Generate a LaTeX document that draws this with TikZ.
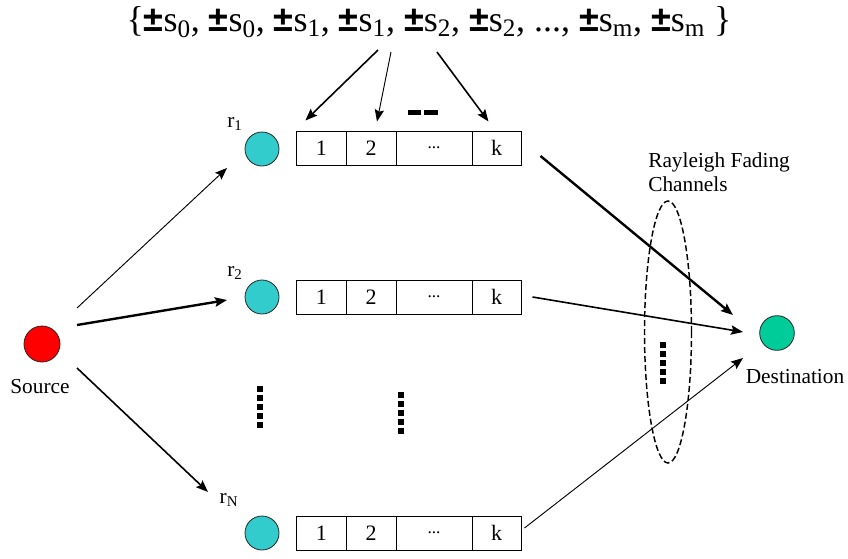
\documentclass[tikz,border=0pt]{standalone}
\usepackage{fontspec}
\setmainfont{Liberation Serif}
\setsansfont{Liberation Sans}
\usetikzlibrary{arrows.meta}
\definecolor{srcred}{RGB}{255,0,0}
\definecolor{relaycyan}{RGB}{51,204,204}
\definecolor{dstgreen}{RGB}{0,204,153}
\newcommand\pmsym{{\sffamily\bfseries ±}}
\newcommand\symb[1]{\pmsym s\textsubscript{#1}}

\begin{document}
\begin{tikzpicture}[x=0.75pt,y=-0.75pt,
  station/.style={circle,draw=black!85,line width=0.6pt,inner sep=0pt,minimum size=25.5pt},
  cell/.style={draw,line width=0.75pt,inner sep=0pt,minimum height=25.5pt,font=\fontsize{16.5}{16.5}\selectfont},
  lbl/.style={inner sep=0pt,font=\fontsize{16}{18}\selectfont},
  tip/.style={-{Stealth[length=9pt,width=7pt,inset=1.5pt]}},
  thinarrow/.style={tip,line width=0.7pt},
  midarrow/.style={tip,line width=1.2pt},
  thickarrow/.style={tip,line width=1.8pt},
]
\useasboundingbox (0,0) rectangle (848,558);

% symbol set at the top
\node[inner sep=0pt,font=\fontsize{27}{30}\selectfont] (set) at (429,22)
  {\{\symb{0}, \symb{0}, \symb{1}, \symb{1}, \symb{2}, \symb{2}, ..., \symb{m}, \symb{m} \}};

% source, relays and destination
\node[station,fill=srcred,minimum size=27pt] (src) at (42,344) {};
\node[lbl] (srclbl) at (40,387) {Source};
\node[station,fill=relaycyan] (r1) at (262,149) {};
\node[station,fill=relaycyan] (r2) at (262,297) {};
\node[station,fill=relaycyan] (rN) at (262,533) {};
\node[lbl] (r1lbl) at (235,124) {r\textsubscript{1}};
\node[lbl] (r2lbl) at (235,273) {r\textsubscript{2}};
\node[lbl] (rNlbl) at (229,500) {r\textsubscript{N}};
\node[station,fill=dstgreen,minimum size=26pt] (dst) at (777,333) {};
\node[lbl] (dstlbl) at (795,377) {Destination};

% relay buffers
\foreach \row/\y in {1/148,2/297,N/533} {
  \node[cell,minimum width=37pt]    (c\row a) at (321.4,\y) {1};
  \node[cell,minimum width=37.5pt]  (c\row b) at (371,\y) {2};
  \node[cell,minimum width=57pt]    (c\row c) at (434,\y) {\fontsize{13}{13}\selectfont ...};
  \node[cell,minimum width=36.75pt] (c\row d) at (496.5,\y) {k};
}

% dash mark above the first buffer
\fill (408,110) rectangle (421,115);
\fill (424,110) rectangle (438,115);

% vertical dot columns
\foreach \i in {0,...,4} {
  \fill (257,386+9*\i) rectangle +(6,6);
  \fill (398,392+9*\i) rectangle +(6,6);
  \fill (660,342+9*\i) rectangle +(6,6);
}

% channel group
\draw[line width=1.1pt,dash pattern=on 4.5pt off 2.25pt] (668,332) ellipse [x radius=23.5,y radius=131];
\node[lbl,anchor=base west] (ray) at (648,167) {Rayleigh Fading};
\node[lbl,anchor=base west] (chan) at (648,191) {Channels};

% symbols assigned to buffer slots
\draw[midarrow] ([shift={(-51,28)}]set.center) -- ([shift={(-16,-10)}]c1a.north);
\draw[thinarrow] ([shift={(-38,30)}]set.center) -- ([shift={(6,-9)}]c1b.north);
\draw[midarrow] ([shift={(8,30)}]set.center) -- ([shift={(-8,-9)}]c1d.north);

% source to relays
\draw[thinarrow] ([shift={(35,-36)}]src.center) -- ([shift={(-35,19)}]r1.center);
\draw[thickarrow] ([shift={(35,-19)}]src.center) -- ([shift={(-35,3)}]r2.center);
\draw[midarrow] ([shift={(35,24)}]src.center) -- ([shift={(-54,-41)}]rN.center);

% relays to destination
\draw[thickarrow] ([shift={(19,8)}]c1d.east) -- ([shift={(-44,-18)}]dst.center);
\draw[midarrow] ([shift={(11,0)}]c2d.east) -- ([shift={(-34,-1)}]dst.center);
\draw[thinarrow] ([shift={(3,-5)}]cNd.east) -- ([shift={(-34,25)}]dst.center);
\end{tikzpicture}
\end{document}
